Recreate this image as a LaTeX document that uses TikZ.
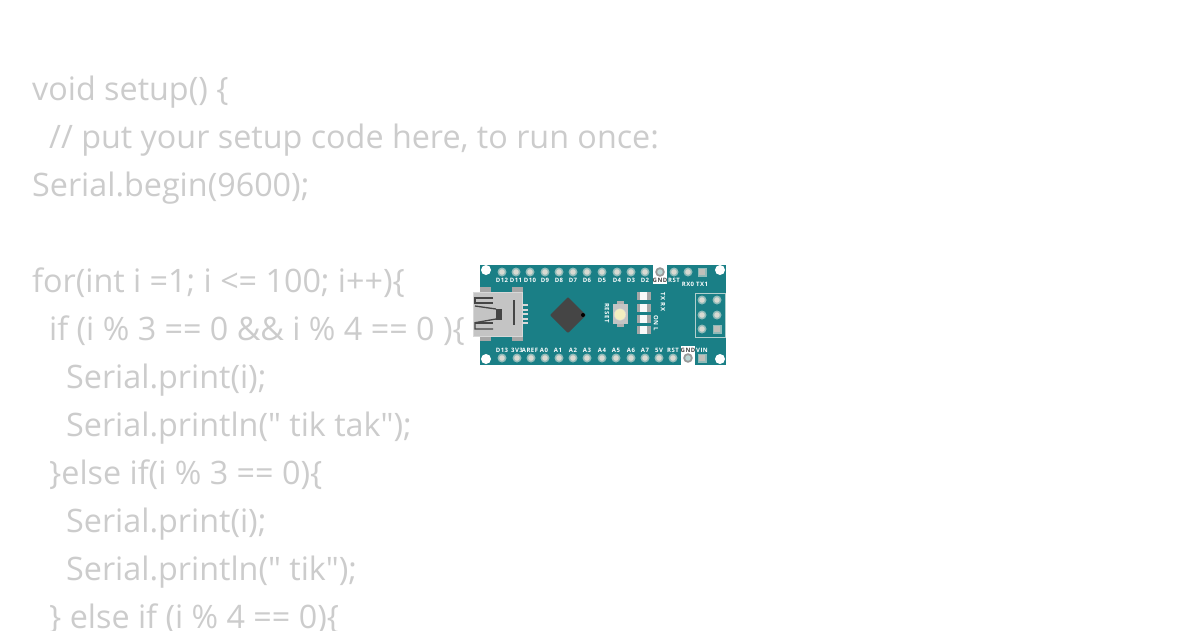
\documentclass[tikz,border=0pt]{standalone}
\usepackage{fontspec}
\newfontfamily\codefont{Open Sans}
\newfontfamily\pinfont{Open Sans}[LetterSpace=8]
\definecolor{codegray}{HTML}{CCCCCC}
\definecolor{boardteal}{HTML}{1A7F86}
\definecolor{padring}{HTML}{8FBAB8}
\definecolor{padcore}{HTML}{D9DAD2}
\definecolor{usbgray}{HTML}{C4C4C4}
\definecolor{usbedge}{HTML}{D8D8D8}
\definecolor{chipgray}{HTML}{454545}
\definecolor{capcream}{HTML}{F3EFC0}
\tikzset{
    codeline/.style={anchor=base west, inner sep=0pt, text=codegray, font=\codefont\fontsize{32.3}{38}\selectfont},
    pinlabel/.style={inner sep=0pt, text=white, font=\pinfont\bfseries\fontsize{6}{7}\selectfont},
    padround/.style={fill=padring},
    padsquare/.style={fill=padcore!70!gray}
}
\begin{document}
\begin{tikzpicture}[x=1pt,y=-1pt]
    \useasboundingbox (0,0) rectangle (1200,630);
    \fill[white] (0,0) rectangle (1200,630);
    % code text
    \node[codeline] (line1) at (32,100) {void setup() \{};
    \node[codeline] (line2) at (49,148) {// put your setup code here, to run once:};
    \node[codeline] (line3) at (32,196) {Serial.begin(9600);};
    \node[codeline] (line5) at (32,292) {for(int i =1; i <= 100; i++)\{};
    \node[codeline] (line6) at (49,340) {if (i \% 3 == 0 \&\& i \% 4 == 0 )\{};
    \node[codeline] (line7) at (66,388) {Serial.print(i);};
    \node[codeline] (line8) at (66,436) {Serial.println(" tik tak");};
    \node[codeline] (line9) at (49,484) {\}else if(i \% 3 == 0)\{};
    \node[codeline] (line10) at (66,532) {Serial.print(i);};
    \node[codeline] (line11) at (66,580) {Serial.println(" tik");};
    \node[codeline] (line12) at (49,628) {\} else if (i \% 4 == 0)\{};
    % board
    \fill[boardteal] (480,265) rectangle (726,365);
    \foreach \x/\y in {486/270, 720/270, 486/359, 720/359} {
            \fill[white] (\x,\y) circle (5);
        }
    \fill[white] (653,265) rectangle (667,284);
    \fill[white] (681,346) rectangle (695,365);
    % pads
    \foreach \x in {502,516,530,545,559,573,587,602,617,631,645,674,688} {
            \fill[padround] (\x,272) circle (4.5);
            \fill[padcore] (\x,272) circle (2.8);
        }
    \foreach \x in {502,517,531,545,559,573,587,602,616,631,645,659,673} {
            \fill[padround] (\x,358) circle (4.5);
            \fill[padcore] (\x,358) circle (2.8);
        }
    \foreach \x/\y in {660/272, 688/358} {
            \fill[gray!80] (\x,\y) circle (4.8);
            \fill[padring!60!white] (\x,\y) circle (2.8);
        }
    \foreach \x/\y in {702/272, 702/358} {
            \fill[padring] (\x-4.5,\y-4.5) rectangle (\x+4.5,\y+4.5);
            \fill[padsquare] (\x-2.8,\y-2.8) rectangle (\x+2.8,\y+2.8);
        }
    % header block
    \draw[padring!70!white, line width=1pt] (695.5,293) rectangle (725,337);
    \foreach \x/\y in {702/300, 717/300, 702/315, 717/315, 702/329} {
            \fill[padround] (\x,\y) circle (4.5);
            \fill[padcore] (\x,\y) circle (2.8);
        }
    \fill[padring] (712.5,324.5) rectangle (721.5,333.5);
    \fill[padsquare] (714.2,326.2) rectangle (719.8,331.8);
    % pin labels
    \foreach \x/\txt [count=\i] in {502/D12,516/D11,530/D10,545/D9,559/D8,573/D7,587/D6,602/D5,617/D4,631/D3,645/D2,674/RST} {
            \node[pinlabel] (top\i) at (\x,280) {\txt};
        }
    \node[pinlabel, text=chipgray] (topgnd) at (660,280) {GND};
    \node[pinlabel] (rxlabel) at (688,284.5) {RX0};
    \node[pinlabel] (txlabel) at (702,284.5) {TX1};
    \foreach \x/\txt [count=\i] in {502/D13,517/3V3,530/AREF,544/A0,558/A1,573/A2,587/A3,602/A4,616/A5,631/A6,645/A7,659/5V,673/RST,702/VIN} {
            \node[pinlabel] (bot\i) at (\x,350) {\txt};
        }
    \node[pinlabel, text=chipgray] (botgnd) at (688,350) {GND};
    \node[pinlabel, rotate=-90] (resetlabel) at (607,313) {RESET};
    \node[pinlabel, rotate=-90] (txrxlabel) at (663,302) {TX RX};
    \node[pinlabel, rotate=-90] (onllabel) at (656,323) {ON L};
    % usb socket
    \foreach \x in {480,512} {
            \fill[usbgray!85!black] (\x,287) rectangle (\x+11,292);
            \fill[usbgray!85!black] (\x,336) rectangle (\x+11,341);
        }
    \foreach \y in {305,309.5,314,318.5,323} {
            \fill[usbedge] (522,\y-1) rectangle (528,\y+1);
        }
    \fill[usbgray, draw=usbedge] (473,292) rectangle (522,336);
    \draw[chipgray, line width=1.3pt] (493,298) -- (475,298) -- (475,303) -- (493,303);
    \draw[chipgray, line width=1.3pt] (475,306) -- (496,309);
    \draw[chipgray, line width=1.3pt] (496,319) -- (475,322.7) -- (475,329) -- (493,329);
    \draw[chipgray, line width=1.3pt] (475,323) -- (493,323);
    \fill[chipgray] (496,308.5) rectangle (502,319.5);
    \draw[chipgray, line width=1.3pt] (514,300) -- (514,325);
    % chip
    \fill[chipgray, rounded corners=1pt] (568,297) -- (586,315) -- (568,333) -- (550,315) -- cycle;
    \fill[black] (583,315) circle (2);
    % reset button
    \fill[usbgray!90!black] (617,301) rectangle (624,327);
    \fill[usbgray] (613,304) rectangle (628,324);
    \fill[capcream, draw=usbedge] (620,314.5) circle (5.8);
    % leds
    \foreach \y in {296,308,319,330} {
            \fill[usbgray!85!black] (637,\y-4) rectangle (651,\y+4);
            \fill[white!90!usbgray] (640,\y-4) rectangle (647,\y+4);
        }
\end{tikzpicture}
\end{document}
